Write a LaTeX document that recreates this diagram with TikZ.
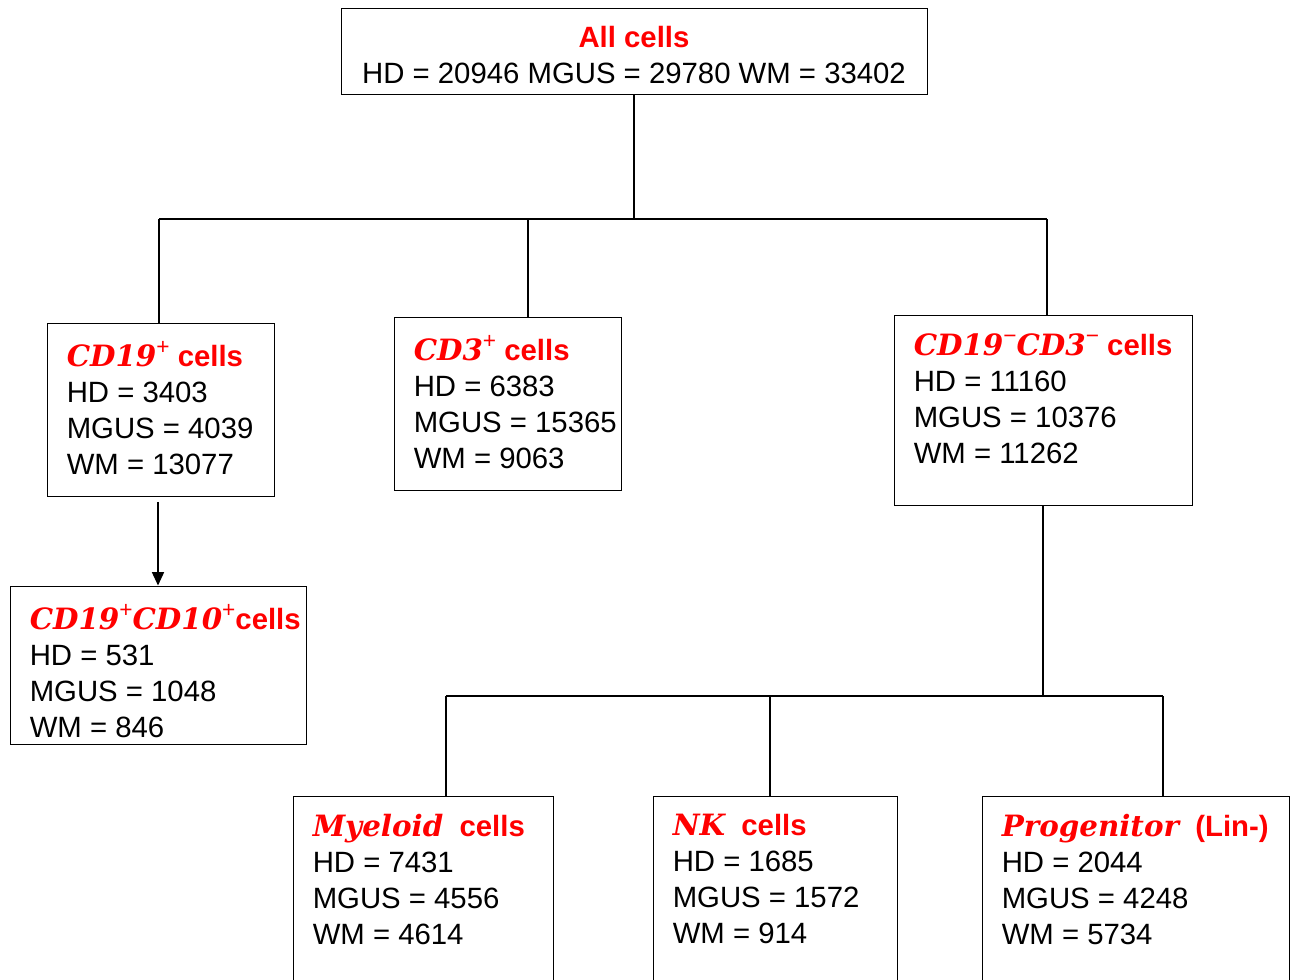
\documentclass[tikz,border=0pt]{standalone}
\usepackage{fontspec}
\setmainfont{Liberation Sans}
\newfontfamily\serifbi{DejaVu Serif}
\usetikzlibrary{arrows.meta}
\definecolor{titlered}{RGB}{255,0,0}
\newcommand{\cellmath}[1]{{\serifbi\bfseries\itshape #1}}
\newcommand{\cellsign}[1]{\raisebox{0.4em}{\fontsize{17pt}{17pt}\selectfont\mdseries #1}}
\newcommand{\celltitle}[1]{{\color{titlered}\bfseries #1}}

\begin{document}
\begin{tikzpicture}[x=0.75pt,y=-0.75pt,
  box/.style={draw, line width=0.75pt, inner sep=0pt},
  counts/.style={anchor=north west, inner sep=0pt, align=left,
    font=\fontsize{22pt}{27pt}\selectfont},
  link/.style={line width=1.5pt},
  pointer/.style={line width=1.1pt, -{Triangle[length=10pt,width=9pt]}}]
\useasboundingbox (0,0) rectangle (1291,979);

% boxes
\node[box, minimum width=439.5pt, minimum height=64.5pt] (all) at (634,51) {};
\node[box, minimum width=170.25pt, minimum height=129.75pt] (cdnineteen) at (160.5,409.5) {};
\node[box, minimum width=170.25pt, minimum height=129.75pt] (cdthree) at (507.5,403.5) {};
\node[box, minimum width=223.5pt, minimum height=142.5pt] (negneg) at (1043,410) {};
\node[box, minimum width=222pt, minimum height=118.5pt] (cdten) at (158,665) {};
\node[box, minimum width=195pt, minimum height=153pt] (myeloid) at (423,898) {};
\node[box, minimum width=183pt, minimum height=153pt] (nk) at (775,898) {};
\node[box, minimum width=230.25pt, minimum height=153pt] (progen) at (1135.5,898) {};

% texts
\node[counts, anchor=north, align=center] (alltxt) at ([yshift=-14pt]all.north)
  {\celltitle{All cells}\\HD = 20946 MGUS = 29780 WM = 33402};
\node[counts] (cdnineteentxt) at ([xshift=15pt,yshift=-14pt]cdnineteen.north west)
  {\celltitle{\cellmath{CD19}\cellsign{+} cells}\\HD = 3403\\MGUS = 4039\\WM = 13077};
\node[counts] (cdthreetxt) at ([xshift=15pt,yshift=-14pt]cdthree.north west)
  {\celltitle{\cellmath{CD3}\cellsign{+} cells}\\HD = 6383\\MGUS = 15365\\WM = 9063};
\node[counts] (negnegtxt) at ([xshift=15pt,yshift=-14pt]negneg.north west)
  {\celltitle{\cellmath{CD19}\cellsign{−}\cellmath{CD3}\cellsign{−} cells}\\HD = 11160\\MGUS = 10376\\WM = 11262};
\node[counts] (cdtentxt) at ([xshift=15pt,yshift=-14pt]cdten.north west)
  {\celltitle{\cellmath{CD19}\cellsign{+}\cellmath{CD10}\cellsign{+}cells}\\HD = 531\\MGUS = 1048\\WM = 846};
\node[counts] (myeloidtxt) at ([xshift=15pt,yshift=-14pt]myeloid.north west)
  {\celltitle{\cellmath{Myeloid}\ \ cells}\\HD = 7431\\MGUS = 4556\\WM = 4614};
\node[counts] (nktxt) at ([xshift=15pt,yshift=-14pt]nk.north west)
  {\celltitle{\cellmath{NK}\ \ cells}\\HD = 1685\\MGUS = 1572\\WM = 914};
\node[counts] (progentxt) at ([xshift=15pt,yshift=-14pt]progen.north west)
  {\celltitle{\cellmath{Progenitor}\ \ (Lin-)}\\HD = 2044\\MGUS = 4248\\WM = 5734};

% upper tree
\coordinate (topbus) at (635,219);
\coordinate (dropone) at (159,219);
\coordinate (droptwo) at (528,219);
\coordinate (dropthree) at (1047,219);
\draw[link] (all.south) -- (all.south |- topbus);
\draw[link] (dropone) -- (dropthree);
\draw[link] (dropone) -- (dropone |- cdnineteen.north);
\draw[link] (droptwo) -- (droptwo |- cdthree.north);
\draw[link] (dropthree) -- (dropthree |- negneg.north);

% arrow
\coordinate (arrowx) at (158,0);
\draw[pointer] ([yshift=-4pt]cdnineteen.south -| arrowx) -- (cdten.north -| arrowx);

% lower tree
\coordinate (lowbus) at (1043,696);
\coordinate (dropfour) at (446,696);
\coordinate (dropfive) at (770,696);
\coordinate (dropsix) at (1163,696);
\draw[link] (negneg.south) -- (negneg.south |- lowbus);
\draw[link] (dropfour) -- (dropsix);
\draw[link] (dropfour) -- (dropfour |- myeloid.north);
\draw[link] (dropfive) -- (dropfive |- nk.north);
\draw[link] (dropsix) -- (dropsix |- progen.north);
\end{tikzpicture}
\end{document}
